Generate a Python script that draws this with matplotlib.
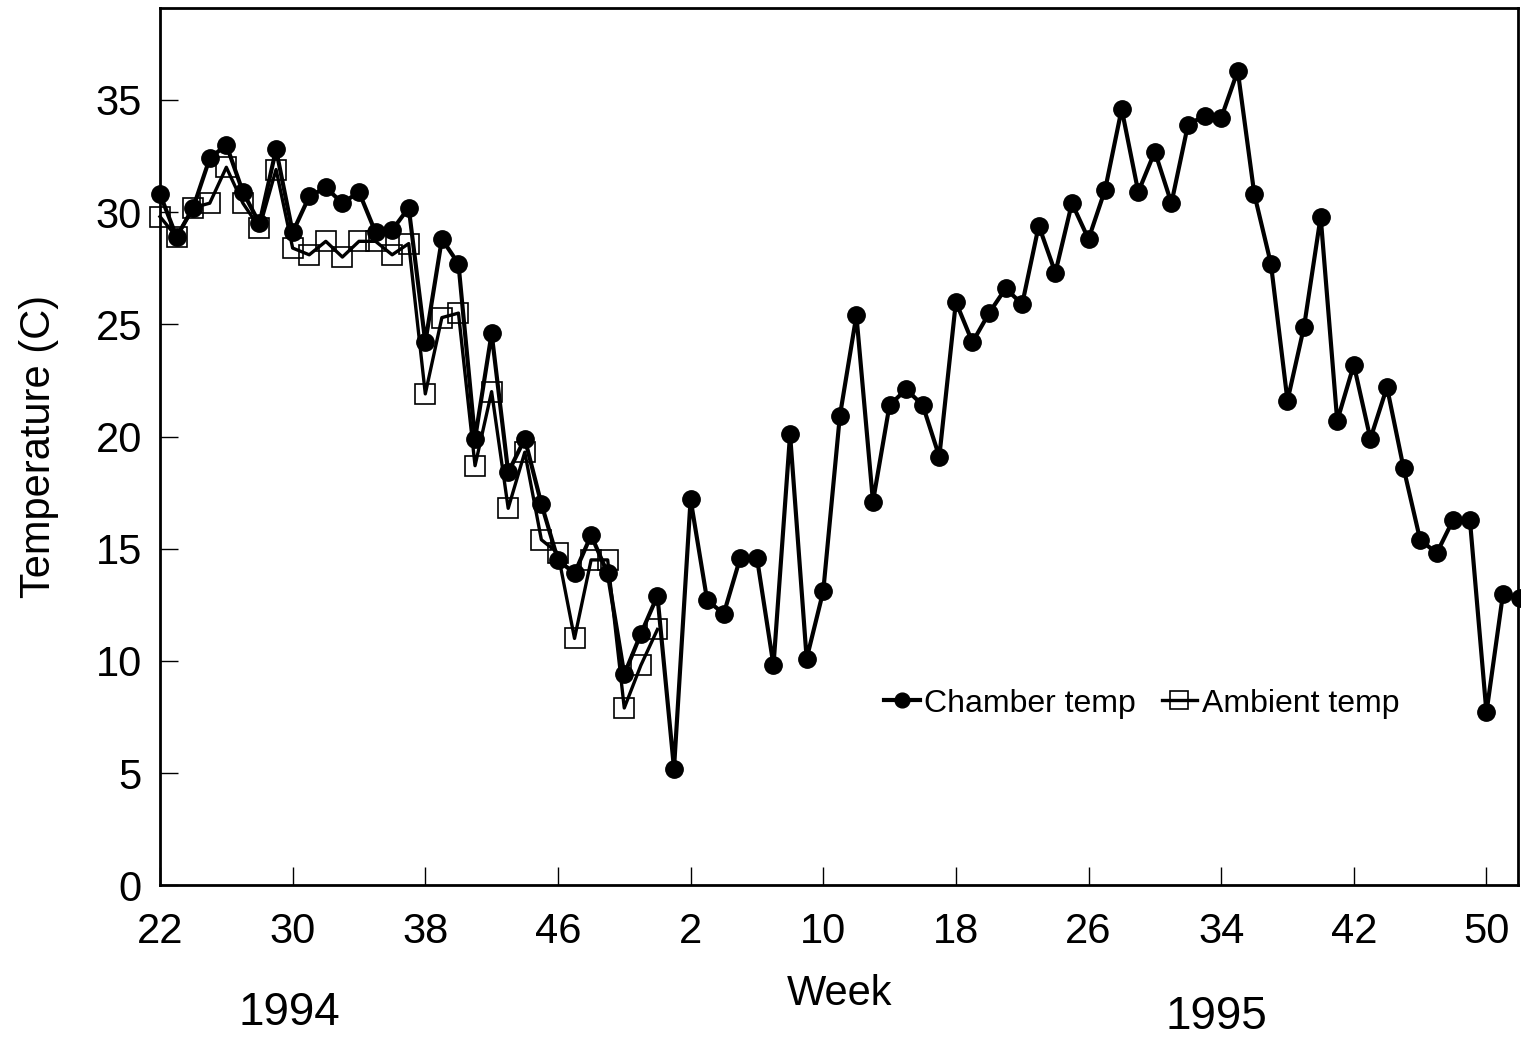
import matplotlib
matplotlib.use("Agg")
import matplotlib.pyplot as plt
import numpy as np

plt.rcParams['font.family'] = ['Liberation Sans', 'DejaVu Sans']

# Weekly series starting at week 22 of 1994 (52 weeks in 1994)
chamber_temp = [
    30.8, 28.9, 30.2, 32.4, 33.0, 30.9, 29.5, 32.8, 29.1, 30.7,
    31.1, 30.4, 30.9, 29.1, 29.2, 30.2, 24.2, 28.8, 27.7, 19.9,
    24.6, 18.4, 19.9, 17.0, 14.5, 13.9, 15.6, 13.9, 9.4, 11.2,
    12.9, 5.2, 17.2, 12.7, 12.1, 14.6, 14.6, 9.8, 20.1, 10.1,
    13.1, 20.9, 25.4, 17.1, 21.4, 22.1, 21.4, 19.1, 26.0, 24.2,
    25.5, 26.6, 25.9, 29.4, 27.3, 30.4, 28.8, 31.0, 34.6, 30.9,
    32.7, 30.4, 33.9, 34.3, 34.2, 36.3, 30.8, 27.7, 21.6, 24.9,
    29.8, 20.7, 23.2, 19.9, 22.2, 18.6, 15.4, 14.8, 16.3, 16.3,
    7.7, 13.0, 12.8,
]
ambient_temp = [
    29.8, 28.9, 30.2, 30.4, 32.0, 30.4, 29.3, 31.9, 28.4, 28.1,
    28.7, 28.0, 28.7, 28.7, 28.1, 28.6, 21.9, 25.3, 25.5, 18.7,
    22.0, 16.8, 19.3, 15.4, 14.8, 11.0, 14.5, 14.5, 7.9, 9.8,
    11.4,
]
tick_labels = ['22', '30', '38', '46', '2', '10', '18', '26', '34', '42', '50']
year_labels = ['1994', '1995']

x_chamber = np.arange(len(chamber_temp))
x_ambient = np.arange(len(ambient_temp))

fig = plt.figure(figsize=(15.21, 10.39), dpi=100)
ax = fig.add_axes([0.1052, 0.148, 0.8928, 0.8443])

ax.plot(x_ambient, ambient_temp, color='black', lw=2.4, marker='s',
        markersize=15, markerfacecolor='none', markeredgecolor='black',
        markeredgewidth=1.2, label='Ambient temp', clip_on=False, zorder=2)
ax.plot(x_chamber, chamber_temp, color='black', lw=3.0, marker='o',
        markersize=12.5, markerfacecolor='black', markeredgecolor='black',
        label='Chamber temp', clip_on=False, zorder=3)

ax.set_xlim(0, 81.9)
ax.set_ylim(0, 39.1)
ax.set_xticks(np.arange(0, 81, 8))
ax.set_xticklabels(tick_labels)
ax.set_yticks(np.arange(0, 36, 5))

ax.tick_params(axis='both', direction='in', length=13, width=1.0,
               labelsize=30, pad=13)
ax.tick_params(axis='x', pad=19)
for sp in ax.spines.values():
    sp.set_linewidth(2.0)

ax.set_ylabel('Temperature (C)', fontsize=30, labelpad=26)
fig.text(0.552, 0.043, 'Week', fontsize=30, ha='center', va='center')
fig.text(0.19, 0.025, year_labels[0], fontsize=33, ha='center', va='center')
fig.text(0.80, 0.021, year_labels[1], fontsize=33, ha='center', va='center')

handles, labels = ax.get_legend_handles_labels()
leg = ax.legend(handles[::-1], labels[::-1], loc='center',
                bbox_to_anchor=(0.723, 0.207), ncol=2, frameon=False,
                fontsize=23, handlelength=1.1, handletextpad=0.15,
                columnspacing=0.8, markerscale=0.85)

fig.savefig('out.png', dpi=100)
